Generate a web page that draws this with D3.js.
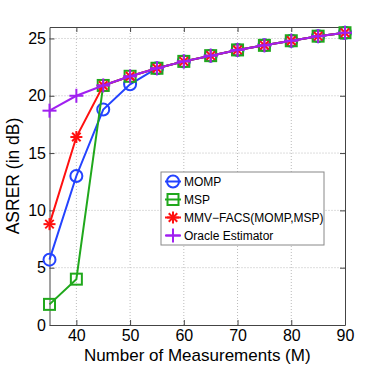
<!DOCTYPE html>
<html>
<head>
<meta charset="utf-8">
<script src="https://cdn.jsdelivr.net/npm/d3@7"></script>
<style>
  body { margin: 0; background: #fff; }
  text { font-family: "Liberation Sans", Arial, sans-serif; }
</style>
</head>
<body>
<div id="chart"></div>
<script>
// data
var measurements = [35, 40, 45, 50, 55, 60, 65, 70, 75, 80, 85, 90];
var mompVals   = [5.7, 13.0, 18.8, 21.0, 22.4, 23.0, 23.5, 24.0, 24.4, 24.8, 25.2, 25.5];
var mspVals    = [1.8, 4.0, 20.9, 21.7, 22.4, 23.0, 23.5, 24.0, 24.4, 24.8, 25.2, 25.5];
var mmvVals    = [8.8, 16.4, 20.9, 21.7, 22.4, 23.0, 23.5, 24.0, 24.4, 24.8, 25.2, 25.5];
var oracleVals = [18.7, 20.0, 20.9, 21.7, 22.4, 23.0, 23.5, 24.0, 24.4, 24.8, 25.2, 25.5];
var seriesNames = ["MOMP", "MSP", "MMV\u2212FACS(MOMP,MSP)", "Oracle Estimator"];
var xTicks = [40, 50, 60, 70, 80, 90];
var yTicks = [0, 5, 10, 15, 20, 25];

var svgWidth = 381, svgHeight = 366;
var margin = {top: 27, right: 36, bottom: 41, left: 49.5};
var chartWidth = svgWidth - margin.left - margin.right;
var chartHeight = svgHeight - margin.top - margin.bottom;

var svg = d3.select("#chart").append("svg")
  .attr("width", svgWidth)
  .attr("height", svgHeight);

var chartGroup = svg.append("g")
  .attr("transform", `translate(${margin.left}, ${margin.top})`);

var xScale = d3.scaleLinear().domain([35, 90]).range([0, chartWidth]);
var yScale = d3.scaleLinear().domain([0, 26]).range([chartHeight, 0]);

// grid (dotted)
chartGroup.append("g").selectAll("line").data(xTicks.slice(0, -1)).enter().append("line")
  .attr("x1", d => xScale(d)).attr("x2", d => xScale(d))
  .attr("y1", 0).attr("y2", chartHeight)
  .attr("stroke", "#bbb").attr("stroke-width", 1).attr("stroke-dasharray", "1,2");
chartGroup.append("g").selectAll("line").data(yTicks.slice(1)).enter().append("line")
  .attr("x1", 0).attr("x2", chartWidth)
  .attr("y1", d => yScale(d)).attr("y2", d => yScale(d))
  .attr("stroke", "#bbb").attr("stroke-width", 1).attr("stroke-dasharray", "1,2");

// axes, matlab style: ticks inside, box all round
var bottomAxis = d3.axisBottom(xScale).tickValues(xTicks).tickSizeInner(-5).tickSizeOuter(0).tickPadding(5);
var leftAxis = d3.axisLeft(yScale).tickValues(yTicks).tickSizeInner(-5).tickSizeOuter(0).tickPadding(3.5);
var topAxis = d3.axisTop(xScale).tickValues(xTicks).tickSizeInner(-5).tickSizeOuter(0).tickFormat("");
var rightAxis = d3.axisRight(yScale).tickValues(yTicks).tickSizeInner(-5).tickSizeOuter(0).tickFormat("");

var gx = chartGroup.append("g").attr("transform", `translate(0, ${chartHeight})`).call(bottomAxis);
var gy = chartGroup.append("g").call(leftAxis);
chartGroup.append("g").call(topAxis);
chartGroup.append("g").attr("transform", `translate(${chartWidth}, 0)`).call(rightAxis);

chartGroup.selectAll(".domain").attr("stroke", "#444");
chartGroup.selectAll(".tick line").attr("stroke", "#444");
chartGroup.selectAll(".tick text").attr("font-size", "16px").attr("fill", "#000")
  .style("font-family", "'Liberation Sans', Arial, sans-serif");

// axis labels
svg.append("text")
  .attr("x", margin.left + chartWidth / 2).attr("y", 361)
  .attr("text-anchor", "middle").attr("font-size", "17px")
  .text("Number of Measurements (M)");
svg.append("text")
  .attr("transform", "translate(19, 176) rotate(-90)")
  .attr("text-anchor", "middle").attr("font-size", "17.5px")
  .text("ASRER (in dB)");

// markers
function drawMarker(g, type, color) {
  if (type == "circle") {
    g.append("circle").attr("r", 6).attr("fill", "none").attr("stroke", color).attr("stroke-width", 2);
  } else if (type == "square") {
    g.append("rect").attr("x", -5.5).attr("y", -5.5).attr("width", 11).attr("height", 11)
      .attr("fill", "none").attr("stroke", color).attr("stroke-width", 2);
  } else if (type == "star") {
    var r = 6;
    [0, 45, 90, 135].forEach(a => {
      var t = a * Math.PI / 180;
      g.append("line")
        .attr("x1", -r * Math.cos(t)).attr("y1", -r * Math.sin(t))
        .attr("x2", r * Math.cos(t)).attr("y2", r * Math.sin(t))
        .attr("stroke", color).attr("stroke-width", 2);
    });
  } else {
    var r = 7;
    g.append("line").attr("x1", -r).attr("x2", r).attr("y1", 0).attr("y2", 0).attr("stroke", color).attr("stroke-width", 2);
    g.append("line").attr("x1", 0).attr("x2", 0).attr("y1", -r).attr("y2", r).attr("stroke", color).attr("stroke-width", 2);
  }
}

var series = [
  {name: seriesNames[0], vals: mompVals, color: "#2443ff", marker: "circle"},
  {name: seriesNames[1], vals: mspVals, color: "#20a81c", marker: "square"},
  {name: seriesNames[2], vals: mmvVals, color: "#ff1010", marker: "star"},
  {name: seriesNames[3], vals: oracleVals, color: "#a020f0", marker: "plus"}
];

var line = d3.line().x((d, i) => xScale(measurements[i])).y(d => yScale(d));

series.forEach(s => {
  chartGroup.append("path").datum(s.vals)
    .attr("d", line).attr("fill", "none")
    .attr("stroke", s.color).attr("stroke-width", 2);
  s.vals.forEach((v, i) => {
    var g = chartGroup.append("g")
      .attr("transform", `translate(${xScale(measurements[i])}, ${yScale(v)})`);
    drawMarker(g, s.marker, s.color);
  });
});

// legend
var legend = svg.append("g").attr("transform", "translate(161, 172)");
legend.append("rect").attr("width", 163).attr("height", 73)
  .attr("fill", "#fff").attr("stroke", "#888").attr("stroke-width", 1);
series.forEach((s, i) => {
  var y = 9.5 + i * 18;
  legend.append("line").attr("x1", 4).attr("x2", 20).attr("y1", y).attr("y2", y)
    .attr("stroke", s.color).attr("stroke-width", 2);
  var g = legend.append("g").attr("transform", `translate(12, ${y})`);
  drawMarker(g, s.marker, s.color);
  legend.append("text").attr("x", 23).attr("y", y + 4.5)
    .attr("font-size", "12px").text(s.name);
});
</script>
</body>
</html>
